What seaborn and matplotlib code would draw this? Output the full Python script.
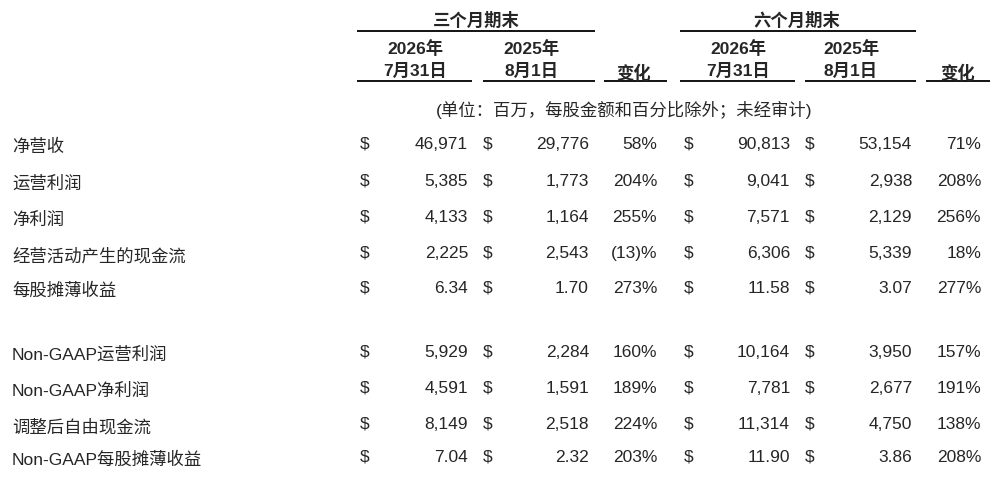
import matplotlib
matplotlib.use("Agg")
import matplotlib.pyplot as plt
import seaborn as sns

sns.set_theme(style="white")
plt.rcParams['font.family'] = ['Liberation Sans', 'Noto Sans CJK SC', 'DejaVu Sans']

row_labels = ["净营收", "运营利润", "净利润", "经营活动产生的现金流", "每股摊薄收益",
              "Non-GAAP运营利润", "Non-GAAP净利润", "调整后自由现金流", "Non-GAAP每股摊薄收益"]
q_2026 = ["46,971", "5,385", "4,133", "2,225", "6.34", "5,929", "4,591", "8,149", "7.04"]
q_2025 = ["29,776", "1,773", "1,164", "2,543", "1.70", "2,284", "1,591", "2,518", "2.32"]
q_chg = ["58%", "204%", "255%", "(13)%", "273%", "160%", "189%", "224%", "203%"]
h_2026 = ["90,813", "9,041", "7,571", "6,306", "11.58", "10,164", "7,781", "11,314", "11.90"]
h_2025 = ["53,154", "2,938", "2,129", "5,339", "3.07", "3,950", "2,677", "4,750", "3.86"]
h_chg = ["71%", "208%", "256%", "18%", "277%", "157%", "191%", "138%", "208%"]
group_titles = ["三个月期末", "六个月期末"]
col_heads = [("2026年", "7月31日"), ("2025年", "8月1日")]
chg_head = "变化"
unit_note = "(单位：百万，每股金额和百分比除外；未经审计)"

fig = plt.figure(figsize=(10.08, 4.86), dpi=100)
ax = fig.add_axes([0, 0, 1, 1])
ax.set_xlim(0, 1008)
ax.set_ylim(486, 0)
ax.axis("off")
fs = 12.5

row_y = [144, 181, 217, 253, 288, 352, 388, 424, 457]
label_dy = 3

def line(x0, x1, y):
    ax.plot([x0, x1], [y, y], color="black", lw=1.3, solid_capstyle="butt")

# headers
for title, (cx, x0, x1) in zip(group_titles, [(476, 357, 595), (797, 680, 916)]):
    ax.text(cx, 20, title, ha="center", va="center", fontsize=fs, fontweight="bold")
    line(x0, x1, 31)

sub_cols = [(415, 357, 472), (532, 483, 595), (738, 680, 795), (851, 805, 916)]
for i, (cx, x0, x1) in enumerate(sub_cols):
    top, bot = col_heads[i % 2]
    ax.text(cx, 49, top, ha="center", va="center", fontsize=fs, fontweight="bold")
    ax.text(cx, 71, bot, ha="center", va="center", fontsize=fs, fontweight="bold")
    line(x0, x1, 81)
for cx, x0, x1 in [(634, 604, 667), (958, 926, 990)]:
    ax.text(cx, 73, chg_head, ha="center", va="center", fontsize=fs, fontweight="bold")
    line(x0, x1, 81)

ax.text(624, 110, unit_note, ha="center", va="center", fontsize=fs)

cols = [(360, 468, q_2026), (483, 589, q_2025), (684, 790, h_2026), (805, 912, h_2025)]
for i, lab in enumerate(row_labels):
    y = row_y[i]
    ax.text(12, y + label_dy, lab, ha="left", va="center", fontsize=fs)
    for dx, rx, vals in cols:
        ax.text(dx, y, "$", ha="left", va="center", fontsize=fs)
        ax.text(rx, y, vals[i], ha="right", va="center", fontsize=fs)
    ax.text(657, y, q_chg[i], ha="right", va="center", fontsize=fs)
    ax.text(981, y, h_chg[i], ha="right", va="center", fontsize=fs)

fig.savefig("out.png", dpi=100)
